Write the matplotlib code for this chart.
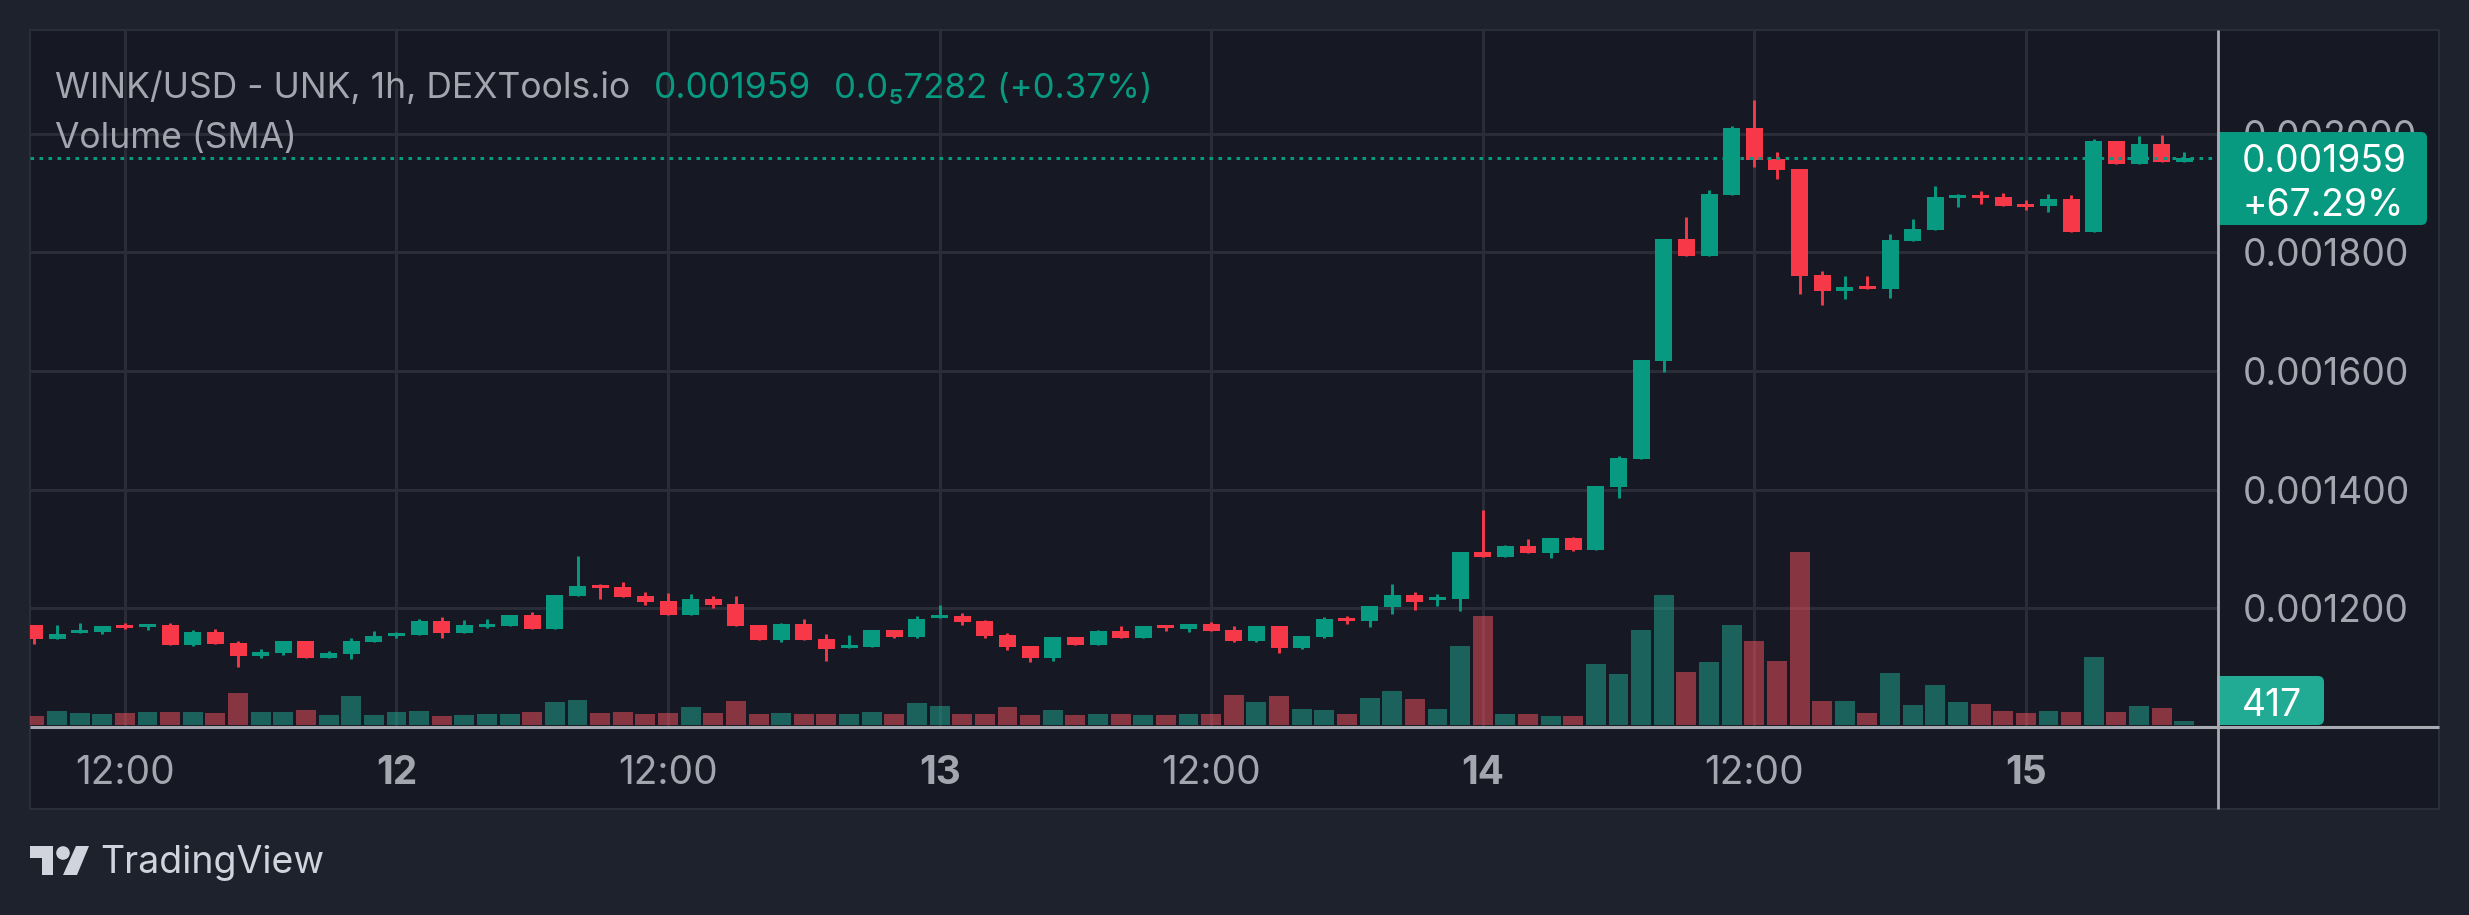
import matplotlib
matplotlib.use('Agg')
import matplotlib.pyplot as plt
from matplotlib.patches import Rectangle, Polygon, Circle, FancyBboxPatch

plt.rcParams['font.family'] = ['Inter', 'DejaVu Sans']

# ---------- data (prices in 1e-6 USD) ----------
opens = [1172, 1148, 1158, 1160, 1172, 1169, 1172, 1138, 1160, 1142, 1120, 1125, 1145, 1116, 1123, 1143,
         1153, 1155, 1179, 1158, 1169, 1170, 1189, 1165, 1221, 1239, 1236, 1221, 1212, 1189, 1216, 1207,
         1172, 1147, 1174, 1148, 1133, 1135, 1164, 1152, 1184, 1187, 1179, 1155, 1137, 1116, 1152, 1138,
         1162, 1150, 1172, 1165, 1174, 1164, 1145, 1170, 1133, 1152, 1184, 1179, 1202, 1222, 1214, 1216,
         1295, 1287, 1305, 1293, 1319, 1298, 1404, 1452, 1617, 1822, 1794, 1897, 2010, 1957, 1940, 1762,
         1735, 1743, 1738, 1819, 1838, 1892, 1897, 1893, 1881, 1878, 1890, 1834, 1988, 1949, 1983, 1952]
highs = [1172, 1172, 1175, 1170, 1175, 1174, 1175, 1164, 1165, 1145, 1131, 1145, 1145, 1128, 1150, 1162,
         1160, 1182, 1185, 1180, 1182, 1189, 1194, 1222, 1288, 1241, 1244, 1228, 1226, 1224, 1221, 1221,
         1172, 1175, 1182, 1157, 1155, 1164, 1164, 1187, 1206, 1192, 1180, 1158, 1137, 1152, 1152, 1164,
         1170, 1170, 1172, 1174, 1177, 1170, 1170, 1170, 1153, 1185, 1187, 1204, 1241, 1228, 1224, 1295,
         1366, 1307, 1317, 1319, 1320, 1406, 1457, 1619, 1822, 1860, 1905, 2013, 2057, 1969, 1940, 1769,
         1760, 1760, 1831, 1856, 1912, 1898, 1903, 1900, 1888, 1898, 1897, 1991, 1988, 1996, 1998, 1969]
lows = [1140, 1148, 1158, 1157, 1165, 1164, 1138, 1137, 1140, 1101, 1116, 1121, 1116, 1116, 1115, 1143,
        1150, 1155, 1150, 1158, 1167, 1170, 1165, 1165, 1221, 1216, 1219, 1206, 1189, 1189, 1201, 1170,
        1147, 1143, 1147, 1111, 1133, 1135, 1150, 1150, 1184, 1172, 1150, 1130, 1110, 1111, 1138, 1138,
        1150, 1150, 1162, 1160, 1162, 1143, 1143, 1125, 1131, 1150, 1174, 1169, 1190, 1197, 1204, 1196,
        1287, 1287, 1293, 1285, 1297, 1298, 1386, 1452, 1598, 1794, 1794, 1897, 1944, 1924, 1730, 1711,
        1721, 1738, 1723, 1819, 1838, 1876, 1881, 1878, 1871, 1868, 1834, 1834, 1949, 1949, 1952, 1952]
closes = [1148, 1157, 1164, 1170, 1167, 1174, 1138, 1160, 1140, 1120, 1126, 1145, 1116, 1125, 1145, 1153,
          1158, 1179, 1158, 1172, 1174, 1189, 1165, 1222, 1238, 1234, 1219, 1211, 1189, 1216, 1206, 1170,
          1147, 1174, 1147, 1131, 1138, 1164, 1152, 1182, 1189, 1177, 1153, 1135, 1116, 1152, 1138, 1162,
          1150, 1170, 1167, 1174, 1162, 1145, 1170, 1133, 1153, 1182, 1179, 1204, 1222, 1211, 1219, 1295,
          1287, 1305, 1293, 1319, 1298, 1406, 1453, 1618, 1822, 1794, 1898, 2010, 1956, 1939, 1760, 1735,
          1742, 1738, 1821, 1839, 1893, 1897, 1892, 1878, 1876, 1890, 1834, 1988, 1949, 1983, 1952, 1959]
volumes = [940, 1460, 1250, 1150, 1250, 1360, 1360, 1360, 1250, 3340, 1360, 1360, 1560, 1040, 3020, 1040,
           1360, 1460, 940, 1040, 1150, 1150, 1360, 2400, 2610, 1250, 1360, 1150, 1250, 1880, 1250, 2500,
           1150, 1250, 1150, 1150, 1150, 1360, 1150, 2290, 1980, 1150, 1150, 1880, 1040, 1560, 1040, 1150,
           1150, 1040, 1040, 1150, 1150, 3130, 2400, 3020, 1670, 1560, 1150, 2810, 3540, 2710, 1670, 8240,
           11360, 1150, 1150, 940, 940, 6360, 5320, 9900, 13550, 5530, 6570, 10430, 8760, 6670, 18040, 2500,
           2500, 1250, 5420, 2090, 4170, 2400, 2190, 1460, 1250, 1460, 1360, 7090, 1360, 1980, 1770, 417]

price_ticks = [1200, 1400, 1600, 1800, 2000]
time_ticks = [4, 16, 28, 40, 52, 64, 76, 88]
time_labels = ['12:00', '12', '12:00', '13', '12:00', '14', '12:00', '15']
last_price = 1959

# ---------- colours ----------
BG = '#1e222d'
PANE = '#161924'
GRID = '#2a2d38'
UP = '#089981'
DOWN = '#f63849'
VOL_UP = '#22ab94'
VOL_DOWN = '#f7525f'
TEXT = '#a3a6af'
LINE = '#a9abb3'

W, H = 2469, 915
fig = plt.figure(figsize=(W / 100, H / 100), dpi=100, facecolor=BG)

# 整张图用像素坐标的底层/顶层，放面板和标签
back = fig.add_axes([0, 0, 1, 1], zorder=0)
back.set_xlim(0, W)
back.set_ylim(H, 0)
back.axis('off')
back.add_patch(Rectangle((30, 30), 2409, 779, fc=PANE, ec='#2a2e39', lw=1.5))

# ---------- price pane: grid and tick labels ----------
PX_LEFT, PX_RIGHT, PX_TOP, PX_BOTTOM = 30, 2218, 30, 727
rect = [PX_LEFT / W, 1 - PX_BOTTOM / H, (PX_RIGHT - PX_LEFT) / W, (PX_BOTTOM - PX_TOP) / H]
XLIM = (-0.194, 96.49)
YLIM = (1000, 2174.7)

ax = fig.add_axes(rect, zorder=1)
ax.patch.set_alpha(0)
ax.set_xlim(*XLIM)
ax.set_ylim(*YLIM)
for s in ax.spines.values():
    s.set_visible(False)
ax.yaxis.tick_right()
ax.set_yticks(price_ticks)
ax.set_yticklabels([f'{p / 1e6:.6f}' for p in price_ticks], fontsize=26.8, color=TEXT)
ax.set_xticks(time_ticks)
ax.set_xticklabels(time_labels, fontsize=28, color=TEXT)
for lab, name in zip(ax.get_xticklabels(), time_labels):
    if ':' not in name:
        lab.set_fontweight('bold')
ax.tick_params(axis='both', length=0)
ax.tick_params(axis='x', pad=20)
ax.tick_params(axis='y', pad=18)
ax.grid(True, color=GRID, lw=2.2)

# ---------- volume, over the grid ----------
xs = list(range(len(opens)))
ax_vol = fig.add_axes(rect, zorder=2)
ax_vol.axis('off')
ax_vol.set_xlim(*XLIM)
ax_vol.set_ylim(-208, 72454)
vol_colors = [VOL_UP if c >= o else VOL_DOWN for o, c in zip(opens, closes)]
ax_vol.bar(xs, volumes, width=0.88, color=vol_colors, alpha=0.5, lw=0)

# ---------- candles ----------
ax_c = fig.add_axes(rect, zorder=3)
ax_c.axis('off')
ax_c.set_xlim(*XLIM)
ax_c.set_ylim(*YLIM)
colors = [UP if c >= o else DOWN for o, c in zip(opens, closes)]
bottoms = [min(o, c) for o, c in zip(opens, closes)]
heights = [abs(c - o) for o, c in zip(opens, closes)]
ax_c.vlines(xs, lows, highs, colors=colors, lw=2.1, zorder=3)
ax_c.bar(xs, heights, bottom=bottoms, width=0.75, color=colors, lw=0, zorder=4)
ax_c.axhline(last_price, color=UP, lw=2.16, ls=(0, (1.2, 1.8)), zorder=5)

# ---------- overlay: crosshair, labels, logo ----------
top = fig.add_axes([0, 0, 1, 1], zorder=5)
top.set_xlim(0, W)
top.set_ylim(H, 0)
top.axis('off')

top.plot([30, 2439], [727.3, 727.3], color=LINE, lw=2.2, solid_capstyle='butt')
top.plot([2218, 2218], [30, 809], color=LINE, lw=2.0, solid_capstyle='butt')

top.add_patch(FancyBboxPatch((2217, 132), 210, 93, boxstyle='round,pad=0,rounding_size=6', fc=UP, ec='none'))
top.add_patch(Rectangle((2217, 132), 10, 93, fc=UP, ec='none'))
top.text(2242, 158, f'{last_price / 1e6:.6f}', color='white', fontsize=26.8, va='center_baseline', ha='left')
top.text(2242, 202, '+67.29%', color='white', fontsize=26.8, va='center_baseline', ha='left')

top.add_patch(FancyBboxPatch((2217, 676), 107, 49, boxstyle='round,pad=0,rounding_size=6', fc=VOL_UP, ec='none'))
top.add_patch(Rectangle((2217, 676), 10, 49, fc=VOL_UP, ec='none'))
top.text(2242, 702, f'{volumes[-1]}', color='white', fontsize=26.8, va='center_baseline', ha='left')

top.text(55, 85, 'WINK/USD - UNK, 1h, DEXTools.io', color=TEXT, fontsize=25.5, va='center_baseline')
top.text(654, 85, f'{closes[-1] / 1e6:.6f}', color=UP, fontsize=25.5, va='center_baseline')
top.text(834, 85, '0.0₅7282 (+0.37%)', color=UP, fontsize=25, va='center_baseline')
top.text(55, 135, 'Volume (SMA)', color=TEXT, fontsize=25.5, va='center_baseline')

LOGO = '#d1d4dc'
top.add_patch(Polygon([(30, 846), (53, 846), (53, 875), (42, 875), (42, 858), (30, 858)], fc=LOGO, ec='none'))
top.add_patch(Circle((63, 853), 6.8, fc=LOGO, ec='none'))
top.add_patch(Polygon([(76, 846), (89, 846), (77, 875), (63, 875)], fc=LOGO, ec='none'))
top.text(100, 859, 'TradingView', color=LOGO, fontsize=27, va='center_baseline')

fig.savefig('out.png', dpi=100, facecolor=BG)
